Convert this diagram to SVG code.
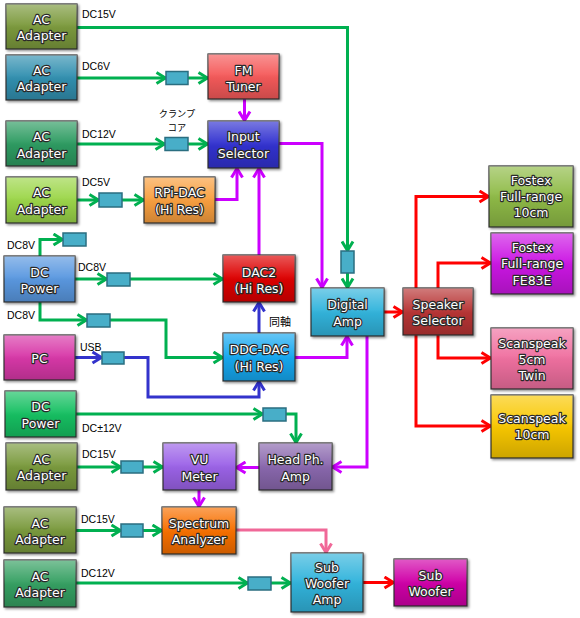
<svg xmlns="http://www.w3.org/2000/svg" width="580" height="618" viewBox="0 0 580 618">
<defs>
<linearGradient id="gloss" x1="0" y1="0" x2="0" y2="1">
<stop offset="0" stop-color="#fff" stop-opacity="0.35"/>
<stop offset="0.45" stop-color="#fff" stop-opacity="0.05"/>
<stop offset="0.55" stop-color="#000" stop-opacity="0.03"/>
<stop offset="1" stop-color="#000" stop-opacity="0.18"/>
</linearGradient>
<filter id="sh" x="-10%" y="-10%" width="130%" height="130%">
<feDropShadow dx="1.5" dy="1.5" stdDeviation="1" flood-color="#000" flood-opacity="0.45"/>
</filter>
<marker id="ag" viewBox="0 0 12 14" refX="11" refY="7" markerWidth="12" markerHeight="14" markerUnits="userSpaceOnUse" orient="auto"><path d="M1.5,1.5 L10.5,7 L1.5,12.5" fill="none" stroke="#00b050" stroke-width="3"/></marker>
<marker id="am" viewBox="0 0 12 14" refX="11" refY="7" markerWidth="12" markerHeight="14" markerUnits="userSpaceOnUse" orient="auto"><path d="M1.5,1.5 L10.5,7 L1.5,12.5" fill="none" stroke="#cc00ff" stroke-width="3"/></marker>
<marker id="ab" viewBox="0 0 12 14" refX="11" refY="7" markerWidth="12" markerHeight="14" markerUnits="userSpaceOnUse" orient="auto"><path d="M1.5,1.5 L10.5,7 L1.5,12.5" fill="none" stroke="#3333cc" stroke-width="3"/></marker>
<marker id="ar" viewBox="0 0 12 14" refX="11" refY="7" markerWidth="12" markerHeight="14" markerUnits="userSpaceOnUse" orient="auto"><path d="M1.5,1.5 L10.5,7 L1.5,12.5" fill="none" stroke="#ff0000" stroke-width="3"/></marker>
<marker id="ap" viewBox="0 0 12 14" refX="11" refY="7" markerWidth="12" markerHeight="14" markerUnits="userSpaceOnUse" orient="auto"><path d="M1.5,1.5 L10.5,7 L1.5,12.5" fill="none" stroke="#f06898" stroke-width="3"/></marker>
</defs>
<style>
.n rect.b{stroke:#333;stroke-width:1.2;filter:url(#sh)}
.n rect.g{fill:url(#gloss)}
.n text{font-family:"DejaVu Sans",sans-serif;font-size:12.5px;fill:#fff;stroke:#2a2a2a;stroke-width:2.4px;paint-order:stroke;stroke-linejoin:round;text-anchor:middle}
.c path{fill:none;stroke-width:3}
.gr{stroke:#00b050}.mg{stroke:#cc00ff}.bl{stroke:#3333cc}.rd{stroke:#ff0000}.pk{stroke:#f06898}
.f rect{fill:#48aec8;stroke:#2a6e80;stroke-width:1.5}
.lb{font-family:"Liberation Sans",sans-serif;font-size:10.5px;fill:#000}
.jp{font-family:"Noto Sans CJK JP",sans-serif;font-size:9.2px;fill:#000;text-anchor:middle}
</style>

<g id="connectors" class="c">
<path class="gr" d="M77,27.5 H347.5 V251" marker-end="url(#ag)"/>
<path class="gr" d="M347.5,273 V288" marker-end="url(#ag)"/>
<path class="gr" d="M77,78 H166" marker-end="url(#ag)"/>
<path class="gr" d="M188,78 H208" marker-end="url(#ag)"/>
<path class="gr" d="M77,144 H165" marker-end="url(#ag)"/>
<path class="gr" d="M188,144 H208" marker-end="url(#ag)"/>
<path class="gr" d="M77,200 H99" marker-end="url(#ag)"/>
<path class="gr" d="M122,200 H144" marker-end="url(#ag)"/>
<path class="gr" d="M40,256 V239.5 H63" marker-end="url(#ag)"/>
<path class="gr" d="M75,279 H107" marker-end="url(#ag)"/>
<path class="gr" d="M130,279 H223" marker-end="url(#ag)"/>
<path class="gr" d="M40,302 V320 H87" marker-end="url(#ag)"/>
<path class="gr" d="M110,320 H166 V357.5 H223" marker-end="url(#ag)"/>
<path class="gr" d="M76,414 H263" marker-end="url(#ag)"/>
<path class="gr" d="M286,414 H296 V443" marker-end="url(#ag)"/>
<path class="gr" d="M77,467 H121" marker-end="url(#ag)"/>
<path class="gr" d="M143,467 H163" marker-end="url(#ag)"/>
<path class="gr" d="M76,530.5 H121" marker-end="url(#ag)"/>
<path class="gr" d="M143,530.5 H162" marker-end="url(#ag)"/>
<path class="gr" d="M76,583 H248" marker-end="url(#ag)"/>
<path class="gr" d="M271,583 H291" marker-end="url(#ag)"/>

<path class="mg" d="M244.5,99 V121" marker-end="url(#am)"/>
<path class="mg" d="M215,199.5 H237 V168" marker-end="url(#am)"/>
<path class="mg" d="M259,255 V168" marker-end="url(#am)"/>
<path class="mg" d="M279,143.5 H322 V288" marker-end="url(#am)"/>
<path class="mg" d="M295,357.5 H347 V336" marker-end="url(#am)"/>
<path class="mg" d="M367,336 V467 H332" marker-end="url(#am)"/>
<path class="mg" d="M259,467.5 H236" marker-end="url(#am)"/>
<path class="mg" d="M199,490 V507" marker-end="url(#am)"/>

<path class="bl" d="M75,357.5 H102" marker-end="url(#ab)"/>
<path class="bl" d="M124,357.5 H148 V397 H259 V381" marker-end="url(#ab)"/>
<path class="bl" d="M259,333 V302" marker-end="url(#ab)"/>

<path class="pk" d="M236,530 H326 V553" marker-end="url(#ap)"/>

<path class="rd" d="M384,312 H403" marker-end="url(#ar)"/>
<path class="rd" d="M416,288 V196.5 H489" marker-end="url(#ar)"/>
<path class="rd" d="M438,288 V263 H491" marker-end="url(#ar)"/>
<path class="rd" d="M438,335 V358 H491" marker-end="url(#ar)"/>
<path class="rd" d="M416,335 V426 H491" marker-end="url(#ar)"/>
<path class="rd" d="M363,582.5 H394" marker-end="url(#ar)"/>
</g>

<g id="filters" class="f">
<rect x="166" y="71.5" width="22" height="13"/>
<rect x="165" y="137.5" width="23" height="13"/>
<rect x="99" y="193" width="23" height="14"/>
<rect x="63" y="233" width="23" height="13"/>
<rect x="107" y="273" width="23" height="13"/>
<rect x="87" y="314" width="23" height="13"/>
<rect x="102" y="352" width="22" height="12"/>
<rect x="341" y="251" width="13" height="22"/>
<rect x="263" y="408" width="23" height="13"/>
<rect x="121" y="461" width="22" height="12"/>
<rect x="121" y="524" width="22" height="13"/>
<rect x="248" y="577" width="23" height="13"/>
</g>

<g id="labels">
<text class="lb" x="82" y="17.5">DC15V</text>
<text class="lb" x="82" y="70">DC6V</text>
<text class="jp" x="177" y="116.5">クランプ</text>
<text class="jp" x="177" y="130.5">コア</text>
<text class="lb" x="82" y="138">DC12V</text>
<text class="lb" x="82" y="186">DC5V</text>
<text class="lb" x="7" y="249">DC8V</text>
<text class="lb" x="78" y="271">DC8V</text>
<text class="lb" x="7" y="319">DC8V</text>
<text class="lb" x="80" y="351">USB</text>
<text class="jp" x="280" y="326" style="font-size:11px">同軸</text>
<text class="lb" x="82" y="432">DC±12V</text>
<text class="lb" x="82" y="458">DC15V</text>
<text class="lb" x="81" y="523">DC15V</text>
<text class="lb" x="81" y="577">DC12V</text>
</g>

<g id="ac1" class="n"><rect class="b" x="6" y="4" width="71" height="45" fill="#7b9a3c"/><rect class="g" x="6" y="4" width="71" height="45"/><text x="41.5" y="23.5">AC</text><text x="41.5" y="39.5">Adapter</text></g>
<g id="ac2" class="n"><rect class="b" x="6" y="55" width="71" height="45" fill="#3390b0"/><rect class="g" x="6" y="55" width="71" height="45"/><text x="41.5" y="74.5">AC</text><text x="41.5" y="90.5">Adapter</text></g>
<g id="fm" class="n"><rect class="b" x="208" y="54" width="71" height="45" fill="#f55a5a"/><rect class="g" x="208" y="54" width="71" height="45"/><text x="243.5" y="74.5">FM</text><text x="243.5" y="90.5">Tuner</text></g>
<g id="insel" class="n"><rect class="b" x="208" y="121" width="71" height="47" fill="#3333d0"/><rect class="g" x="208" y="121" width="71" height="47"/><text x="243.5" y="140.5">Input</text><text x="243.5" y="157.5">Selector</text></g>
<g id="ac3" class="n"><rect class="b" x="6" y="121" width="71" height="45" fill="#2f9c62"/><rect class="g" x="6" y="121" width="71" height="45"/><text x="41.5" y="141">AC</text><text x="41.5" y="157.5">Adapter</text></g>
<g id="ac4" class="n"><rect class="b" x="6" y="177" width="71" height="46" fill="#9cd64a"/><rect class="g" x="6" y="177" width="71" height="46"/><text x="41.5" y="196.5">AC</text><text x="41.5" y="213.5">Adapter</text></g>
<g id="rpi" class="n"><rect class="b" x="144" y="177" width="71" height="46" fill="#f9a040"/><rect class="g" x="144" y="177" width="71" height="46"/><text x="179.5" y="196.5">RPi-DAC</text><text x="179.5" y="213.5">(Hi Res)</text></g>
<g id="dcp1" class="n"><rect class="b" x="4" y="256" width="71" height="46" fill="#5a98e0"/><rect class="g" x="4" y="256" width="71" height="46"/><text x="39.5" y="276.5">DC</text><text x="39.5" y="292.5">Power</text></g>
<g id="dac2" class="n"><rect class="b" x="223" y="255" width="72" height="47" fill="#dd0000"/><rect class="g" x="223" y="255" width="72" height="47"/><text x="259" y="276.5">DAC2</text><text x="259" y="292.5">(Hi Res)</text></g>
<g id="pc" class="n"><rect class="b" x="4" y="335" width="71" height="45" fill="#d838a8"/><rect class="g" x="4" y="335" width="71" height="45"/><text x="39.5" y="362.5">PC</text></g>
<g id="ddc" class="n"><rect class="b" x="223" y="333" width="72" height="48" fill="#12a8f0"/><rect class="g" x="223" y="333" width="72" height="48"/><text x="259" y="353.5">DDC-DAC</text><text x="259" y="370.5">(Hi Res)</text></g>
<g id="damp" class="n"><rect class="b" x="311" y="288" width="73" height="48" fill="#30b4dc"/><rect class="g" x="311" y="288" width="73" height="48"/><text x="347.5" y="308.5">Digital</text><text x="347.5" y="325.5">Amp</text></g>
<g id="spsel" class="n"><rect class="b" x="403" y="288" width="70" height="47" fill="#b83434"/><rect class="g" x="403" y="288" width="70" height="47"/><text x="438" y="308.5">Speaker</text><text x="438" y="324.5">Selector</text></g>
<g id="fx10" class="n"><rect class="b" x="489" y="166" width="84" height="61" fill="#8fbb46"/><rect class="g" x="489" y="166" width="84" height="61"/><text x="531" y="184.5">Fostex</text><text x="531" y="201">Full-range</text><text x="531" y="216.5">10cm</text></g>
<g id="fe83" class="n"><rect class="b" x="491" y="233" width="82" height="61" fill="#cc12e4"/><rect class="g" x="491" y="233" width="82" height="61"/><text x="532" y="251.5">Fostex</text><text x="532" y="268">Full-range</text><text x="532" y="284.5">FE83E</text></g>
<g id="ss5" class="n"><rect class="b" x="491" y="328" width="82" height="61" fill="#f070a0"/><rect class="g" x="491" y="328" width="82" height="61"/><text x="532" y="347.5">Scanspeak</text><text x="532" y="363.5">5cm</text><text x="532" y="379.5">Twin</text></g>
<g id="ss10" class="n"><rect class="b" x="491" y="395" width="82" height="63" fill="#f9c800"/><rect class="g" x="491" y="395" width="82" height="63"/><text x="532" y="422.5">Scanspeak</text><text x="532" y="438.5">10cm</text></g>
<g id="dcp2" class="n"><rect class="b" x="5" y="391" width="71" height="46" fill="#14c062"/><rect class="g" x="5" y="391" width="71" height="46"/><text x="40.5" y="410.5">DC</text><text x="40.5" y="427.5">Power</text></g>
<g id="ac5" class="n"><rect class="b" x="6" y="443" width="71" height="47" fill="#7a9a3c"/><rect class="g" x="6" y="443" width="71" height="47"/><text x="41.5" y="463.5">AC</text><text x="41.5" y="479.5">Adapter</text></g>
<g id="vu" class="n"><rect class="b" x="163" y="443" width="73" height="47" fill="#9c64e8"/><rect class="g" x="163" y="443" width="73" height="47"/><text x="199.5" y="463.5">VU</text><text x="199.5" y="480.5">Meter</text></g>
<g id="hp" class="n"><rect class="b" x="259" y="443" width="73" height="47" fill="#8a68ae"/><rect class="g" x="259" y="443" width="73" height="47"/><text x="295.5" y="463.5">Head Ph.</text><text x="295.5" y="480.5">Amp</text></g>
<g id="ac6" class="n"><rect class="b" x="4" y="507" width="72" height="46" fill="#7a9a3c"/><rect class="g" x="4" y="507" width="72" height="46"/><text x="40" y="527.5">AC</text><text x="40" y="543.5">Adapter</text></g>
<g id="spec" class="n"><rect class="b" x="162" y="507" width="74" height="47" fill="#f87000"/><rect class="g" x="162" y="507" width="74" height="47"/><text x="199" y="527.5">Spectrum</text><text x="199" y="543.5">Analyzer</text></g>
<g id="ac7" class="n"><rect class="b" x="4" y="560" width="72" height="47" fill="#36a062"/><rect class="g" x="4" y="560" width="72" height="47"/><text x="40" y="580.5">AC</text><text x="40" y="596.5">Adapter</text></g>
<g id="swamp" class="n"><rect class="b" x="291" y="553" width="72" height="59" fill="#30b4dc"/><rect class="g" x="291" y="553" width="72" height="59"/><text x="327" y="571.5">Sub</text><text x="327" y="587.5">Woofer</text><text x="327" y="603.5">Amp</text></g>
<g id="sw" class="n"><rect class="b" x="394" y="559" width="73" height="47" fill="#d000a8"/><rect class="g" x="394" y="559" width="73" height="47"/><text x="430.5" y="579.5">Sub</text><text x="430.5" y="595.5">Woofer</text></g>
</svg>
